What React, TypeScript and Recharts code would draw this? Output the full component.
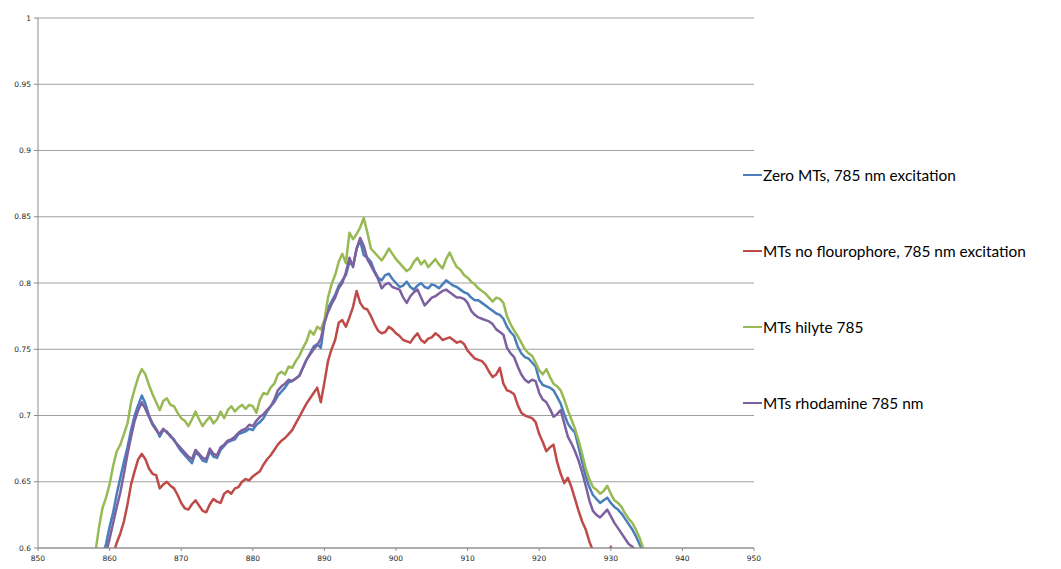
import React from 'react'
import { LineChart, Line, XAxis, YAxis, CartesianGrid } from 'recharts'

// wavelength grid, 0.5 nm steps
const wavelengths: number[] = Array.from({ length: 155 }, (_, i) => 858 + i * 0.5)

const zeroMTs: (number | null)[] = [
  0.575, 0.585, 0.594, 0.603, 0.616, 0.627, 0.641, 0.653, 0.665, 0.676,
  0.689, 0.700, 0.708, 0.715, 0.709, 0.700, 0.694, 0.690, 0.684, 0.689,
  0.688, 0.684, 0.682, 0.677, 0.673, 0.670, 0.667, 0.664, 0.672, 0.670,
  0.666, 0.665, 0.673, 0.669, 0.668, 0.674, 0.677, 0.680, 0.681, 0.682,
  0.686, 0.687, 0.688, 0.690, 0.689, 0.693, 0.695, 0.698, 0.703, 0.707,
  0.710, 0.715, 0.718, 0.721, 0.725, 0.726, 0.728, 0.730, 0.736, 0.742,
  0.747, 0.752, 0.754, 0.751, 0.770, 0.781, 0.786, 0.791, 0.798, 0.802,
  0.806, 0.816, 0.813, 0.826, 0.832, 0.821, 0.819, 0.816, 0.809, 0.804,
  0.802, 0.806, 0.807, 0.803, 0.800, 0.797, 0.798, 0.801, 0.797, 0.795,
  0.798, 0.800, 0.797, 0.796, 0.799, 0.798, 0.796, 0.799, 0.802, 0.800,
  0.798, 0.797, 0.795, 0.793, 0.792, 0.789, 0.787, 0.787, 0.785, 0.783,
  0.781, 0.779, 0.777, 0.776, 0.773, 0.767, 0.763, 0.760, 0.752, 0.747,
  0.744, 0.743, 0.740, 0.737, 0.727, 0.723, 0.722, 0.721, 0.719, 0.714,
  0.709, 0.701, 0.694, 0.690, 0.687, 0.676, 0.665, 0.654, 0.646, 0.640,
  0.637, 0.634, 0.636, 0.638, 0.634, 0.631, 0.629, 0.626, 0.622, 0.618,
  0.614, 0.609, 0.603, 0.597, 0.592
]

const noFluorophore: (number | null)[] = [
  null, null, null, null, 0.585, 0.595, 0.604, 0.611, 0.620, 0.633,
  0.648, 0.658, 0.667, 0.671, 0.667, 0.660, 0.656, 0.655, 0.645, 0.648,
  0.650, 0.647, 0.645, 0.640, 0.634, 0.630, 0.629, 0.633, 0.636, 0.632,
  0.628, 0.627, 0.633, 0.637, 0.635, 0.634, 0.641, 0.643, 0.641, 0.645,
  0.646, 0.650, 0.652, 0.651, 0.654, 0.656, 0.658, 0.663, 0.667, 0.670,
  0.674, 0.678, 0.681, 0.683, 0.686, 0.689, 0.694, 0.699, 0.704, 0.709,
  0.713, 0.717, 0.721, 0.710, 0.725, 0.741, 0.750, 0.757, 0.770, 0.772,
  0.767, 0.774, 0.782, 0.794, 0.785, 0.781, 0.780, 0.775, 0.769, 0.764,
  0.762, 0.763, 0.767, 0.765, 0.762, 0.760, 0.757, 0.756, 0.755, 0.759,
  0.762, 0.757, 0.755, 0.758, 0.759, 0.762, 0.760, 0.757, 0.758, 0.759,
  0.757, 0.755, 0.756, 0.754, 0.749, 0.746, 0.743, 0.742, 0.741, 0.738,
  0.733, 0.729, 0.731, 0.736, 0.724, 0.719, 0.718, 0.716, 0.708, 0.702,
  0.700, 0.699, 0.698, 0.695, 0.686, 0.680, 0.673, 0.676, 0.678, 0.665,
  0.656, 0.649, 0.653, 0.646, 0.637, 0.628, 0.620, 0.614, 0.605, 0.598,
  0.592, 0.588, 0.585, 0.590, 0.601, 0.588, 0.580, null, null, null,
  null, null, null, null, null
]

const hilyte: (number | null)[] = [
  0.596, 0.615, 0.630, 0.638, 0.648, 0.662, 0.673, 0.678, 0.686, 0.694,
  0.710, 0.720, 0.729, 0.735, 0.731, 0.723, 0.716, 0.710, 0.704, 0.711,
  0.713, 0.708, 0.707, 0.702, 0.698, 0.696, 0.692, 0.697, 0.703, 0.697,
  0.692, 0.696, 0.699, 0.694, 0.697, 0.703, 0.698, 0.704, 0.707, 0.703,
  0.706, 0.708, 0.705, 0.708, 0.707, 0.702, 0.712, 0.717, 0.716, 0.721,
  0.724, 0.731, 0.733, 0.731, 0.737, 0.736, 0.741, 0.745, 0.751, 0.756,
  0.764, 0.761, 0.767, 0.765, 0.772, 0.789, 0.799, 0.806, 0.816, 0.822,
  0.815, 0.838, 0.833, 0.837, 0.842, 0.849, 0.838, 0.826, 0.823, 0.820,
  0.817, 0.821, 0.826, 0.822, 0.818, 0.815, 0.812, 0.809, 0.811, 0.816,
  0.819, 0.814, 0.817, 0.812, 0.815, 0.818, 0.814, 0.811, 0.818, 0.823,
  0.817, 0.812, 0.810, 0.806, 0.804, 0.801, 0.799, 0.796, 0.794, 0.792,
  0.789, 0.786, 0.789, 0.788, 0.785, 0.775, 0.769, 0.764, 0.760, 0.755,
  0.750, 0.747, 0.745, 0.740, 0.734, 0.731, 0.735, 0.729, 0.724, 0.722,
  0.719, 0.712, 0.704, 0.697, 0.690, 0.681, 0.671, 0.660, 0.652, 0.646,
  0.644, 0.641, 0.643, 0.647, 0.641, 0.636, 0.634, 0.631, 0.626, 0.622,
  0.619, 0.614, 0.608, 0.600, 0.594
]

const rhodamine: (number | null)[] = [
  0.565, 0.575, 0.586, 0.596, 0.607, 0.619, 0.631, 0.642, 0.656, 0.671,
  0.684, 0.696, 0.704, 0.710, 0.705, 0.699, 0.693, 0.689, 0.686, 0.690,
  0.687, 0.685, 0.681, 0.678, 0.675, 0.672, 0.669, 0.667, 0.674, 0.671,
  0.668, 0.667, 0.675, 0.671, 0.670, 0.676, 0.678, 0.681, 0.682, 0.684,
  0.687, 0.689, 0.690, 0.693, 0.692, 0.696, 0.699, 0.701, 0.704, 0.707,
  0.712, 0.719, 0.722, 0.724, 0.727, 0.726, 0.728, 0.730, 0.736, 0.742,
  0.746, 0.750, 0.753, 0.758, 0.770, 0.778, 0.784, 0.789, 0.796, 0.800,
  0.808, 0.819, 0.812, 0.826, 0.834, 0.828, 0.818, 0.813, 0.808, 0.803,
  0.796, 0.799, 0.800, 0.797, 0.796, 0.795, 0.789, 0.785, 0.790, 0.793,
  0.795, 0.789, 0.783, 0.786, 0.789, 0.790, 0.792, 0.794, 0.795, 0.793,
  0.791, 0.789, 0.789, 0.788, 0.785, 0.779, 0.776, 0.774, 0.773, 0.772,
  0.771, 0.769, 0.765, 0.763, 0.761, 0.751, 0.747, 0.744, 0.737, 0.731,
  0.727, 0.725, 0.727, 0.726, 0.717, 0.712, 0.710, 0.705, 0.699, 0.701,
  0.704, 0.694, 0.684, 0.679, 0.673, 0.666, 0.657, 0.647, 0.636, 0.628,
  0.625, 0.623, 0.626, 0.629, 0.624, 0.619, 0.615, 0.611, 0.607, 0.603,
  0.601, 0.598, 0.596, 0.594, 0.590
]

const xTicks = [850, 860, 870, 880, 890, 900, 910, 920, 930, 940, 950]
const yTicks = [0.6, 0.65, 0.7, 0.75, 0.8, 0.85, 0.9, 0.95, 1]

const series = [
  { key: 'zero', name: 'Zero MTs, 785 nm excitation', color: '#4a7ebb' },
  { key: 'noFluor', name: 'MTs no flourophore, 785 nm excitation', color: '#be4b48' },
  { key: 'hilyte', name: 'MTs hilyte 785', color: '#98b954' },
  { key: 'rhod', name: 'MTs rhodamine 785 nm', color: '#7d60a0' }
]

const data = wavelengths.map((w, i) => ({
  w,
  zero: zeroMTs[i],
  noFluor: noFluorophore[i],
  hilyte: hilyte[i],
  rhod: rhodamine[i]
}))

const tickStyle = { fill: '#262626', fontSize: 7.5, fontFamily: 'DejaVu Sans' }

export default function App() {
  return (
    <div style={{ position: 'relative', width: 1061, height: 569, margin: -8, overflow: 'hidden', background: '#fff' }}>
      <div
        style={{
          position: 'absolute', left: 6, top: 7, width: 1100, height: 600,
          border: '1px solid #a6a6a6', boxSizing: 'border-box'
        }}
      />
      <div style={{ position: 'absolute', left: 0, top: 0 }}>
        <LineChart width={1061} height={569} data={data} margin={{ top: 18, right: 307, left: 0, bottom: 5 }}>
          <CartesianGrid vertical={false} stroke="#a0a0a0" strokeWidth={1} />
          <XAxis
            dataKey="w"
            type="number"
            domain={[850, 950]}
            ticks={xTicks}
            height={16}
            tickSize={3}
            tickMargin={5}
            tick={tickStyle}
            stroke="#8c8c8c"
            interval={0}
          />
          <YAxis
            type="number"
            domain={[0.6, 1]}
            ticks={yTicks}
            allowDataOverflow
            width={38}
            tickSize={4}
            tickMargin={3}
            tick={tickStyle}
            stroke="#8c8c8c"
            interval={0}
          />
          {series.map((s) => (
            <Line
              key={s.key}
              dataKey={s.key}
              name={s.name}
              stroke={s.color}
              strokeWidth={2.5}
              strokeLinejoin="round"
              dot={false}
              type="linear"
              isAnimationActive={false}
            />
          ))}
        </LineChart>
      </div>
      {series.map((s, i) => (
        <div
          key={s.key}
          style={{
            position: 'absolute', left: 743, top: 164.5 + i * 76.3, height: 20,
            display: 'flex', alignItems: 'center', whiteSpace: 'nowrap',
            fontFamily: 'Lato', fontSize: 15.4, color: '#000'
          }}
        >
          <span style={{ display: 'inline-block', width: 19, height: 2, background: s.color, marginRight: 1 }} />
          <span>{s.name}</span>
        </div>
      ))}
    </div>
  )
}
